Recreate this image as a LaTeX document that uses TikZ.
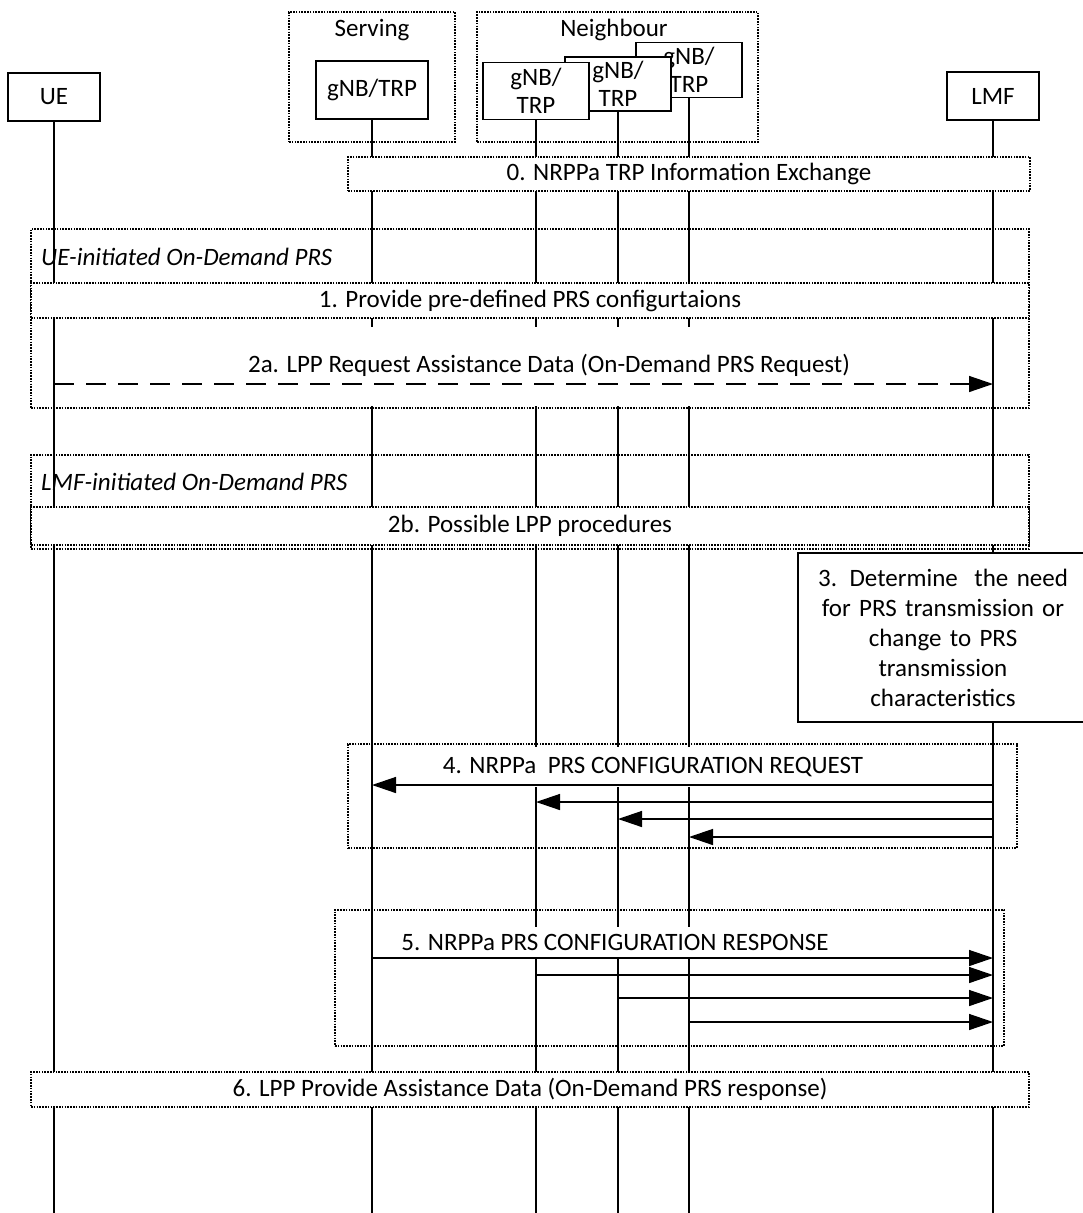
\documentclass[tikz,border=0pt]{standalone}
\usepackage{fontspec}
\setmainfont{Carlito}
\usepackage{tikz}
\usetikzlibrary{arrows.meta, positioning, calc}
\newcommand{\diagfont}{\fontsize{25}{30}\selectfont}
\tikzset{
  entity/.style={rectangle, draw, fill=white, line width=1.3pt,
    align=center, inner sep=0pt, font=\diagfont},
  grp/.style={rectangle, draw, line width=1.4pt,
    dash pattern=on 1.6pt off 1.2pt, inner sep=0pt},
  bar/.style={rectangle, draw, fill=white, line width=1.4pt,
    dash pattern=on 1.6pt off 1.2pt, inner sep=0pt, font=\diagfont},
  txt/.style={inner sep=0pt, font=\diagfont},
  lifeline/.style={line width=1.4pt},
  msg/.style={-{Triangle[length=24pt, width=16pt]}, line width=1.4pt}
}

\begin{document}
\begin{tikzpicture}[x=1pt, y=-1pt]
  \useasboundingbox (0,0) rectangle (1082,1213);
  \coordinate (bottom) at (0,1213);

  % serving and neighbour groups
  \node[grp, minimum width=166pt, minimum height=130pt] (srvgrp) at (372,77) {};
  \node[txt] (srvlbl) at (372,30) {Serving};
  \node[grp, minimum width=281pt, minimum height=130pt] (nbrgrp) at (617.5,77) {};
  \node[txt] (nbrlbl) at (614,30) {Neighbour};

  \node[entity, minimum width=92pt, minimum height=48pt] (ue) at (54,97) {UE};
  \node[entity, minimum width=112pt, minimum height=58pt] (srv) at (372,90) {gNB/TRP};
  \node[entity, minimum width=106pt, minimum height=55pt, font=\fontsize{25}{28}\selectfont] (nb3) at (689,70) {gNB/\\TRP};
  \node[entity, minimum width=106pt, minimum height=54pt, font=\fontsize{25}{28}\selectfont] (nb2) at (618,84) {gNB/\\TRP};
  \node[entity, minimum width=106pt, minimum height=57pt, font=\fontsize{25}{28}\selectfont] (nb1) at (536,91) {gNB/\\TRP};
  \node[entity, minimum width=92pt, minimum height=48pt] (lmf) at (993,96) {LMF};

  % lifelines
  \draw[lifeline] (ue.south) -- (ue |- bottom);
  \draw[lifeline] (srv.south) -- (srv |- bottom);
  \draw[lifeline] (nb1.south) -- (nb1 |- bottom);
  \draw[lifeline] (nb2.south) -- (nb2 |- bottom);
  \draw[lifeline] (nb3.south) -- (nb3 |- bottom);
  \draw[lifeline] (lmf.south) -- (lmf |- bottom);

  % step 0
  \node[bar, minimum width=682pt, minimum height=34pt] (f0) at (689,174) {0. NRPPa TRP Information Exchange};

  % UE-initiated
  \node[grp, minimum width=998pt, minimum height=179pt] (uegrp) at (530,318.5) {};
  \node[txt, anchor=west, font=\diagfont\itshape] (uelbl) at (41,257) {UE-initiated On-Demand PRS};
  \node[bar, minimum width=998pt, minimum height=35pt] (f1) at (530,300.5) {1. Provide pre-defined PRS configurtaions};
  \fill[white] (60,327) rectangle (987,406);
  \node[txt] (l2a) at (549,365) {2a. LPP Request Assistance Data (On-Demand PRS Request)};
  \coordinate (y2a) at (0,384);
  \draw[msg, dash pattern=on 20pt off 12pt] (ue |- y2a) -- (lmf |- y2a);

  % LMF-initiated
  \node[grp, minimum width=998pt, minimum height=94pt] (lmfgrp) at (530,502) {};
  \node[txt, anchor=west, font=\diagfont\itshape] (lmflbl) at (41,482) {LMF-initiated On-Demand PRS};
  \node[bar, minimum width=998pt, minimum height=38pt] (f2b) at (530,526) {2b. Possible LPP procedures};

  % step 3
  \node[entity, minimum width=290pt, minimum height=169pt, text width=270pt] (d3) at (943,637.5)
    {3. Determine\ \ the need\\for PRS transmission or\\change to PRS\\transmission\\characteristics};

  % step 4
  \node[grp, minimum width=669pt, minimum height=104pt] (f4) at (682.5,796) {};
  \node[txt, fill=white, minimum height=40pt] (l4) at (653,767) {4. NRPPa\ \ PRS CONFIGURATION REQUEST};
  \coordinate (r4a) at (0,785);
  \coordinate (r4b) at (0,802);
  \coordinate (r4c) at (0,819);
  \coordinate (r4d) at (0,837);
  \draw[msg] (lmf |- r4a) -- (srv |- r4a);
  \draw[msg] (lmf |- r4b) -- (nb1 |- r4b);
  \draw[msg] (lmf |- r4c) -- (nb2 |- r4c);
  \draw[msg] (lmf |- r4d) -- (nb3 |- r4d);

  % step 5
  \node[grp, minimum width=669pt, minimum height=136pt] (f5) at (669.5,978) {};
  \node[txt, fill=white, inner xsep=25pt, minimum height=30pt] (l5) at (615,942) {5. NRPPa PRS CONFIGURATION RESPONSE};
  \coordinate (r5a) at (0,958);
  \coordinate (r5b) at (0,975);
  \coordinate (r5c) at (0,998);
  \coordinate (r5d) at (0,1022);
  \draw[msg] (srv |- r5a) -- (lmf |- r5a);
  \draw[msg] (nb1 |- r5b) -- (lmf |- r5b);
  \draw[msg] (nb2 |- r5c) -- (lmf |- r5c);
  \draw[msg] (nb3 |- r5d) -- (lmf |- r5d);

  % step 6
  \node[bar, minimum width=998pt, minimum height=35pt] (f6) at (530,1089.5) {6. LPP Provide Assistance Data (On-Demand PRS response)};
\end{tikzpicture}
\end{document}
